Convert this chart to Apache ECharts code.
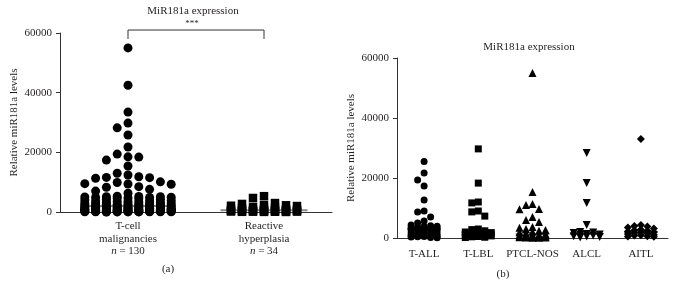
<!DOCTYPE html>
<html>
<head>
<meta charset="utf-8">
<script src="https://cdn.jsdelivr.net/npm/echarts@6/dist/echarts.min.js"></script>
<style>
html,body{margin:0;padding:0;background:#fff}
#chart{width:675px;height:286px}
</style>
</head>
<body>
<div id="chart"></div>
<script>
// panel (a): all T-cell malignancies vs reactive hyperplasia
let groupNames = ['T-cell\nmalignancies', 'Reactive\nhyperplasia']
let tcellVals = [
  55000, 42500, 33500, 29800, 28200, 25800, 21800, 19400, 18500, 18400, 17400, 15400, 13000, 12400,
  11800, 11500, 11300, 11600, 10100, 9900, 9500, 9400, 9300, 8500, 8300, 7600, 7000, 6300,
  5300, 5200, 5100, 5050, 4950, 4900, 5150, 4850,
  4700, 4550, 4420, 4300, 4150, 4020, 3880, 3790, 3650, 3560, 3480, 3350, 3260, 3180, 3050,
  2980, 2890, 2760, 2700, 2630, 2580, 2490, 2430, 2380, 2300, 2240, 2170, 2090, 2030,
  1980, 1920, 1870, 1790, 1740, 1690, 1620, 1580, 1530, 1470, 1420, 1380, 1330, 1270, 1220,
  1190, 1140, 1080, 1030, 990, 960, 930, 890, 860, 830, 790, 760, 730, 710, 680,
  650, 630, 590, 560, 540, 510, 490, 460, 440, 410, 390, 370, 340, 320, 290,
  270, 250, 230, 210, 190, 170, 150, 140, 120, 110, 95, 85, 75, 65, 55, 45, 35, 25, 20, 10
]
let reactiveVals = [
  5300, 4700, 3000, 2700, 2300, 2250, 2100, 2000, 1700, 1480, 1320, 1090, 960, 840, 760, 690, 620,
  580, 530, 470, 430, 380, 330, 290, 260, 220, 190, 160, 130, 105, 85, 60, 40, 20
]
let bracketY = [58000, 61000]

// panel (b): subtypes
let subtypeNames = ['T-ALL', 'T-LBL', 'PTCL-NOS', 'ALCL', 'AITL']
let tallVals = [
  25500, 21700, 19300, 17300, 12700, 9000, 8700, 7000, 5700, 5000, 4300, 4100, 3900, 3800, 3600,
  3450, 3300, 3200, 3100, 2900, 2700, 2500, 2300, 2100, 1900, 1700, 1500, 1300, 1150, 1000,
  850, 700, 600, 500, 400, 300, 200, 100
]
let tlblVals = [29700, 18300, 12000, 11700, 9000, 8700, 7300, 3000, 2800, 2400, 2000, 1800, 1500, 1300, 1100, 900, 700, 500, 400, 250, 150]
let ptclVals = [
  55000, 15300, 11300, 11000, 9700, 9600, 7000, 6000, 5300, 3700, 3400, 3000, 2700, 2400, 2100,
  1900, 1600, 1300, 1200, 1100, 1000, 900, 850, 750, 650, 600, 500, 450, 400, 320, 260, 200, 150, 100, 60
]
let alclVals = [28300, 18300, 11700, 4300, 2000, 1800, 1700, 1300, 1200, 1000, 800, 600, 500, 300, 200]
let aitlVals = [33000, 4300, 4000, 3800, 3500, 3200, 2800, 2600, 2400, 2200, 2000, 1900, 1700, 1500, 1300, 1100, 900, 800, 600, 500, 400]

let yTicks = [0, 20000, 40000, 60000]

const FONT = '"Liberation Serif", "DejaVu Serif", serif'
const INK = '#231f20'

function median (vals) {
  let s = vals.slice().sort((a, b) => a - b)
  let n = s.length
  return n % 2 ? s[(n - 1) / 2] : (s[n / 2 - 1] + s[n / 2]) / 2
}

// prism style column scatter: fill center column first, then spread sideways
function swarm (vals, center, step, maxCol, gap) {
  let order = [0]
  for (let i = 1; i <= maxCol; i++) order.push(-i, i)
  let cols = {}
  order.forEach(c => { cols[c] = [] })
  return vals.slice().sort((a, b) => b - a).map(v => {
    let best = 0, bestD = -1
    for (let c of order) {
      let d = cols[c].length ? Math.min(...cols[c].map(u => Math.abs(u - v))) : Infinity
      if (d >= gap) { best = c; break }
      if (d > bestD) { bestD = d; best = c }
    }
    cols[best].push(v)
    return [center + best * step, v]
  })
}

// xi = hidden value x axis of the panel (1 or 3), panel index = its y axis
function medianLine (vals, center, hw, xi) {
  let m = median(vals)
  return {
    type: 'line', xAxisIndex: xi, yAxisIndex: (xi - 1) / 2, silent: true, symbol: 'none', z: 1,
    lineStyle: { color: '#8a8a8a', width: 2 },
    data: [[center - hw, m], [center + hw, m]]
  }
}

function dots (vals, center, symbol, size, step, maxCol, gap, xi) {
  return {
    type: 'scatter', xAxisIndex: xi, yAxisIndex: (xi - 1) / 2, symbol: symbol, symbolSize: size, z: 2,
    itemStyle: { color: '#000', opacity: 1 },
    data: swarm(vals, center, step, maxCol, gap)
  }
}

function yAxis (grid) {
  return {
    gridIndex: grid, type: 'value', min: yTicks[0], max: yTicks[yTicks.length - 1], interval: yTicks[1] - yTicks[0],
    name: 'Relative miR181a levels', nameLocation: 'middle', nameGap: 40,
    nameTextStyle: { fontFamily: FONT, fontSize: 11, color: INK },
    axisLine: { show: true, onZero: false, lineStyle: { color: '#333', width: 1 } },
    axisTick: { show: true, length: 4, lineStyle: { color: '#333' } },
    axisLabel: { fontFamily: FONT, fontSize: 11, color: INK, margin: 8, formatter: v => String(v) },
    splitLine: { show: false }
  }
}

let nCounts = [tcellVals.length, reactiveVals.length]
let downTri = 'path://M0,0 L10,0 L5,9 Z'

let option = {
  animation: false,
  backgroundColor: '#fff',
  grid: [
    { left: 60, top: 33, width: 272, height: 179 },
    { left: 397, top: 58, width: 271, height: 180 }
  ],
  xAxis: [
    {
      gridIndex: 0, type: 'category', data: groupNames, boundaryGap: true,
      axisLine: { onZero: false, lineStyle: { color: '#333' } },
      axisTick: { alignWithLabel: true, length: 4, lineStyle: { color: '#333' } },
      axisLabel: {
        interval: 0, fontFamily: FONT, fontSize: 11, color: INK, margin: 8, lineHeight: 12.5,
        formatter: (v, i) => v + '\n{it|n} = ' + nCounts[i],
        rich: { it: { fontFamily: FONT, fontSize: 11, color: INK, fontStyle: 'italic', lineHeight: 12.5 } }
      }
    },
    { gridIndex: 0, type: 'value', min: -0.5, max: 1.5, show: false, axisLine: { onZero: false } },
    {
      gridIndex: 1, type: 'category', data: subtypeNames, boundaryGap: true,
      axisLine: { onZero: false, lineStyle: { color: '#333' } },
      axisTick: { alignWithLabel: true, length: 4, lineStyle: { color: '#333' } },
      axisLabel: { interval: 0, fontFamily: FONT, fontSize: 11, color: INK, margin: 11 }
    },
    { gridIndex: 1, type: 'value', min: -0.5, max: 4.5, show: false, axisLine: { onZero: false } }
  ],
  yAxis: [yAxis(0), yAxis(1)],
  series: [
    medianLine(tcellVals, 0, 0.3, 1),
    medianLine(reactiveVals, 1, 0.32, 1),
    dots(tcellVals, 0, 'circle', 9, 10.8 / 136, 4, 3000, 1),
    dots(reactiveVals, 1, 'rect', 8.5, 11 / 136, 3, 3000, 1),
    {
      type: 'line', xAxisIndex: 1, yAxisIndex: 0, clip: false, silent: true, symbol: 'none',
      lineStyle: { color: '#333', width: 1 },
      data: [[0, bracketY[0]], [0, bracketY[1]], [1, bracketY[1]], [1, bracketY[0]]]
    },
    medianLine(tallVals, 0, 0.31, 3),
    medianLine(tlblVals, 1, 0.31, 3),
    medianLine(ptclVals, 2, 0.31, 3),
    medianLine(alclVals, 3, 0.31, 3),
    medianLine(aitlVals, 4, 0.31, 3),
    dots(tallVals, 0, 'circle', 7, 6.5 / 54.2, 2, 2800, 3),
    dots(tlblVals, 1, 'rect', 7, 6.5 / 54.2, 2, 2800, 3),
    dots(ptclVals, 2, 'triangle', 8, 6.5 / 54.2, 2, 2800, 3),
    dots(alclVals, 3, downTri, 8, 6.5 / 54.2, 2, 2800, 3),
    dots(aitlVals, 4, 'diamond', 8, 6.5 / 54.2, 2, 2800, 3)
  ],
  graphic: [
    { type: 'text', x: 193, y: 11, style: { text: 'MiR181a expression', font: '11px ' + FONT, fill: INK, textAlign: 'center', textVerticalAlign: 'middle' } },
    { type: 'text', x: 192, y: 24, style: { text: '***', font: '9px ' + FONT, fill: INK, textAlign: 'center', textVerticalAlign: 'middle' } },
    { type: 'text', x: 529, y: 47, style: { text: 'MiR181a expression', font: '11px ' + FONT, fill: INK, textAlign: 'center', textVerticalAlign: 'middle' } },
    { type: 'text', x: 168, y: 269, style: { text: '(a)', font: '11px ' + FONT, fill: INK, textAlign: 'center', textVerticalAlign: 'middle' } },
    { type: 'text', x: 503, y: 274, style: { text: '(b)', font: '11px ' + FONT, fill: INK, textAlign: 'center', textVerticalAlign: 'middle' } }
  ]
}

let myChart = echarts.init(document.getElementById('chart'))
myChart.setOption(option)
</script>
</body>
</html>
